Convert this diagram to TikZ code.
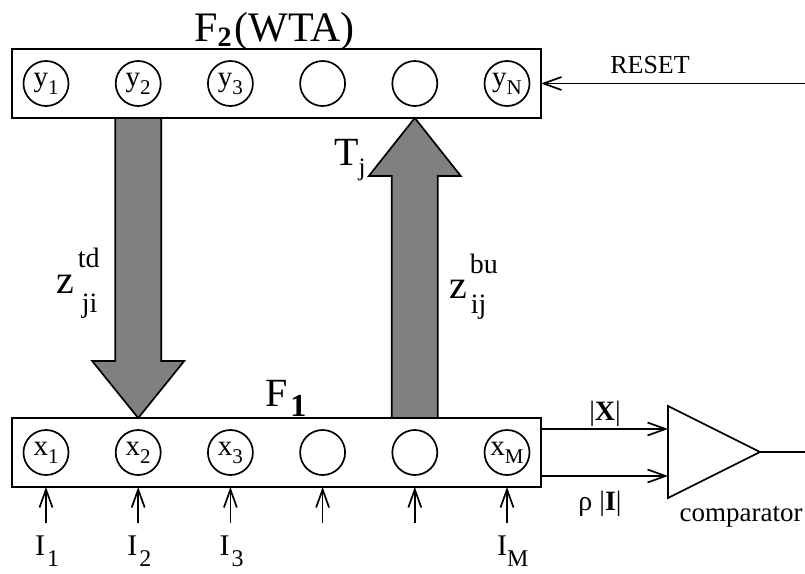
\documentclass[tikz,border=0pt]{standalone}
\usepackage{fontspec}
\setmainfont{Liberation Serif}
\usetikzlibrary{arrows.meta,calc}
\newcommand{\fsz}[1]{\fontsize{#1}{#1}\selectfont}
\newcommand{\lsub}[3]{\raisebox{-#1pt}{\fsz{#2}#3}}
\definecolor{arrowgray}{HTML}{808080}
\begin{document}
\begin{tikzpicture}[x=1pt,y=-1pt,
  layer/.style={draw,line width=2pt,minimum width=529pt,minimum height=69pt,inner sep=0pt,outer sep=0pt},
  unit/.style={draw,circle,line width=1.7pt,minimum size=45pt,inner sep=0pt,outer sep=0pt,font=\fsz{29}},
  fat/.style={draw,line width=1.7pt,fill=arrowgray,line join=miter},
  sig/.style={line width=1.7pt,-{Straight Barb[length=18pt,width=13pt]}},
  lab/.style={inner sep=0pt,anchor=base west},
  clab/.style={inner sep=0pt,anchor=base,font=\fsz{28}}]
\useasboundingbox (0,0) rectangle (805,573);

% layers
\node[layer] (F2) at (276.5,83.5) {};
\node[layer] (F1) at (276.5,452.5) {};

% F2 units
\node[unit] (y1) at (46,83.5) {y\lsub{8}{21}{1}};
\node[unit] (y2) at (138.2,83.5) {y\lsub{8}{21}{2}};
\node[unit] (y3) at (230.4,83.5) {y\lsub{8}{21}{3}};
\node[unit] (y4) at (322.6,83.5) {};
\node[unit] (y5) at (414.8,83.5) {};
\node[unit] (yN) at (507,83.5) {y\lsub{8}{21}{N}};

% F1 units
\node[unit] (x1) at (46,452.5) {x\lsub{8}{21}{1}};
\node[unit] (x2) at (138.2,452.5) {x\lsub{8}{21}{2}};
\node[unit] (x3) at (230.4,452.5) {x\lsub{8}{21}{3}};
\node[unit] (x4) at (322.6,452.5) {};
\node[unit] (x5) at (414.8,452.5) {};
\node[unit] (xM) at (507,452.5) {x\lsub{8}{21}{M}};

% layer titles
\node[lab,font=\fsz{42}] (F2lab) at (194,41) {F\lsub{5}{28}{\textbf{2}}\hspace{3pt}(WTA)};
\node[lab,font=\fsz{40}] (F1lab) at (265,406) {F\hspace{3pt}\lsub{10}{32}{\textbf{1}}};

% fat arrows
\coordinate (dA) at (y2|-F2.south);
\coordinate (dB) at (x2|-F1.north);
\draw[fat] ($(dA)+(-23,0)$) -- ($(dB)+(-23,-57)$) -- ($(dB)+(-46,-57)$) -- (dB)
  -- ($(dB)+(46,-57)$) -- ($(dB)+(23,-57)$) -- ($(dA)+(23,0)$) -- cycle;
\coordinate (uA) at (x5|-F1.north);
\coordinate (uB) at (y5|-F2.south);
\draw[fat] ($(uA)+(-23,0)$) -- ($(uB)+(-23,58)$) -- ($(uB)+(-46,58)$) -- (uB)
  -- ($(uB)+(46,58)$) -- ($(uB)+(23,58)$) -- ($(uA)+(23,0)$) -- cycle;

% arrow labels
\node[lab,font=\fsz{40}] (Tj) at (334,165) {T\lsub{10}{25}{j}};
\node[lab,font=\fsz{40}] (ztd) at (56,293) {z\hspace{4pt}\rlap{\raisebox{26pt}{\fsz{28}td}}\hspace{4pt}\raisebox{-19pt}{\fsz{28}ji}};
\node[lab,font=\fsz{40}] (zbu) at (449,298) {z\hspace{3pt}\rlap{\raisebox{25pt}{\fsz{28}bu}}\hspace{1pt}\raisebox{-15pt}{\fsz{28}ij}};

% inputs
\foreach \u in {x1,x2,x3,x4,x5,xM}{
  \coordinate (in\u) at ($(\u|-F1.south)+(0,36)$);
  \draw[sig] (in\u) -- (\u|-F1.south);
}
\node[lab,font=\fsz{30}] (I1) at (35,555) {I\hspace{2pt}\lsub{11}{24}{1}};
\node[lab,font=\fsz{30}] (I2) at (127.2,555) {I\hspace{2pt}\lsub{11}{24}{2}};
\node[lab,font=\fsz{30}] (I3) at (219.4,555) {I\hspace{2pt}\lsub{11}{24}{3}};
\node[lab,font=\fsz{30}] (IM) at (497,555) {I\lsub{11}{24}{M}};

% reset
\coordinate (rs) at (805,83.5);
\draw[sig] (rs) -- (F2.east);
\node[clab,font=\fsz{26}] (reset) at (650,73) {RESET};

% comparator
\coordinate (cmpT) at (668,406);
\coordinate (cmpB) at (668,498);
\coordinate (cmpO) at (760,452);
\draw[line width=1.7pt,line join=miter] (cmpT) -- (cmpO) -- (cmpB) -- cycle;
\coordinate (cinX) at (668,429);
\coordinate (cinI) at (668,476);
\draw[sig] (F1.east|-cinX) -- (cinX);
\draw[sig] (F1.east|-cinI) -- (cinI);
\coordinate (outEnd) at (805,452);
\draw[line width=1.7pt] (cmpO) -- (outEnd);
\node[clab] (Xlab) at (605,420) {|\textbf{X}|};
\node[clab] (rholab) at (600,510) {ρ |\textbf{I}|};
\node[clab,font=\fsz{27}] (cmplab) at (741,521) {comparator};
\end{tikzpicture}
\end{document}
